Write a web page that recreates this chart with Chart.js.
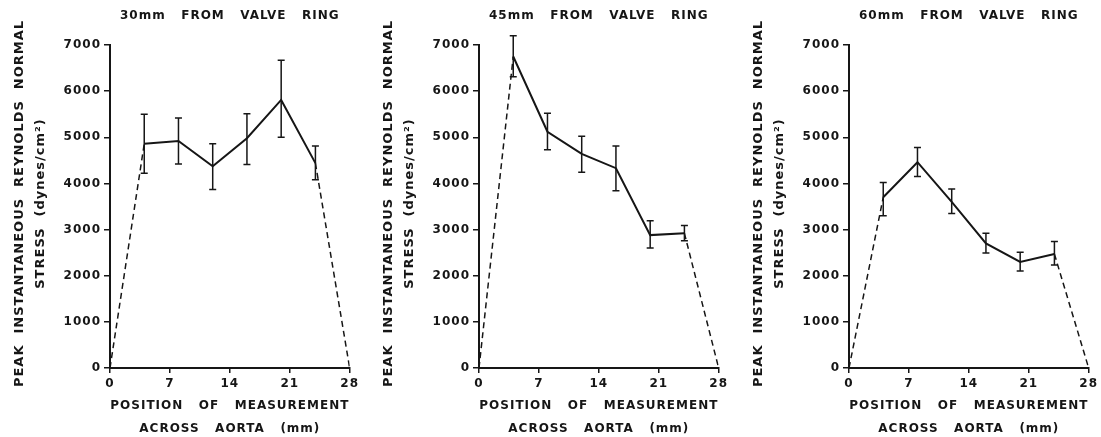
<!DOCTYPE html>
<html>
<head>
<meta charset="utf-8">
<script src="https://cdn.jsdelivr.net/npm/chart.js@4.4.1/dist/chart.umd.min.js"></script>
<style>
html,body{margin:0;padding:0;background:#fff;}
#wrap{position:relative;width:1101px;height:437px;overflow:hidden;background:#fff;}
.pane{position:absolute;top:0;width:362px;height:437px;}
</style>
</head>
<body>
<div id="wrap">
  <div class="pane" style="left:0"><canvas id="c30"></canvas></div>
  <div class="pane" style="left:369px"><canvas id="c45"></canvas></div>
  <div class="pane" style="left:739px"><canvas id="c60"></canvas></div>
</div>
<script>
'use strict';

/* ── data ── */
var POSITIONS=[4,8,12,16,20,24];          // mm across aorta
var WALLS=[0,28];                          // aortic wall, stress 0
var X_TICKS=[0,7,14,21,28];
var Y_TICKS=[0,1000,2000,3000,4000,5000,6000,7000];

var TITLE_30='30mm   FROM   VALVE   RING';
var TITLE_45='45mm   FROM   VALVE   RING';
var TITLE_60='60mm   FROM   VALVE   RING';
var Y_TITLE=['PEAK  INSTANTANEOUS  REYNOLDS  NORMAL','STRESS  (dynes/cm\u00b2)'];
var X_TITLE=['POSITION   OF   MEASUREMENT','ACROSS   AORTA   (mm)'];

var MEAN_30=[4860,4920,4370,4980,5810,4440];
var HI_30  =[5500,5420,4860,5510,6670,4810];
var LO_30  =[4220,4420,3870,4410,5000,4080];

var MEAN_45=[6750,5120,4640,4330,2880,2920];
var HI_45  =[7200,5520,5020,4810,3190,3090];
var LO_45  =[6310,4730,4240,3840,2600,2760];

var MEAN_60=[3700,4460,3600,2700,2300,2470];
var HI_60  =[4020,4780,3880,2920,2510,2740];
var LO_60  =[3300,4150,3350,2490,2100,2230];

/* ── look ── */
var INK='#161616';
var FAMILY='"DejaVu Sans", "Liberation Sans", sans-serif';

Chart.defaults.color=INK;
Chart.defaults.font.family=FAMILY;

// wide lettering like the original typeset figure
var spacingPlugin={
  id:'spacing',
  beforeDraw:function(chart){chart.ctx.letterSpacing='1px';}
};

var errorBarPlugin={
  id:'errorBars',
  afterDatasetsDraw:function(chart,args,opts){
    var xs=chart.scales.x,ys=chart.scales.y,ctx=chart.ctx;
    ctx.save();
    ctx.strokeStyle=INK;ctx.lineWidth=1.5;
    for(var i=0;i<opts.x.length;i++){
      var px=xs.getPixelForValue(opts.x[i]);
      var pt=ys.getPixelForValue(opts.hi[i]);
      var pb=ys.getPixelForValue(opts.lo[i]);
      ctx.beginPath();
      ctx.moveTo(px,pt);ctx.lineTo(px,pb);
      ctx.moveTo(px-3.5,pt);ctx.lineTo(px+3.5,pt);
      ctx.moveTo(px-3.5,pb);ctx.lineTo(px+3.5,pb);
      ctx.stroke();
    }
    ctx.restore();
  }
};

// two-line rotated y title, wider than the plot so drawn by hand
var yTitlePlugin={
  id:'yTitle',
  afterDraw:function(chart){
    var ctx=chart.ctx,a=chart.chartArea;
    var cy=(a.top+a.bottom)/2-3;
    ctx.save();
    ctx.letterSpacing='1px';
    ctx.font='bold 13px '+FAMILY;
    ctx.fillStyle=INK;ctx.textAlign='center';ctx.textBaseline='middle';
    ctx.translate(a.left-90,cy);
    ctx.rotate(-Math.PI/2);
    ctx.fillText(Y_TITLE[0],0,0);
    ctx.fillText(Y_TITLE[1],0,21);
    ctx.restore();
  }
};

function plain(v){return String(v);}

function makePanel(id,title,mean,hi,lo){
  var solid=POSITIONS.map(function(x,i){return{x:x,y:mean[i]};});
  var last=POSITIONS.length-1;
  var dashed=[
    {x:WALLS[0],y:0},{x:POSITIONS[0],y:mean[0]},
    {x:14,y:null},
    {x:POSITIONS[last],y:mean[last]},{x:WALLS[1],y:0}
  ];
  var axisGrid={drawOnChartArea:false,drawTicks:true,tickLength:5,color:INK,lineWidth:1.5};
  var axisBorder={display:true,color:INK,width:2};
  var tickFont={size:12,weight:'bold'};

  return new Chart(document.getElementById(id),{
    type:'line',
    data:{datasets:[
      {data:solid,borderColor:INK,borderWidth:2,pointRadius:0,tension:0,fill:false},
      {data:dashed,borderColor:INK,borderWidth:1.5,borderDash:[6,4],pointRadius:0,tension:0,fill:false,spanGaps:false}
    ]},
    options:{
      responsive:true,maintainAspectRatio:false,animation:false,
      layout:{padding:{left:0,right:10,top:0,bottom:0}},
      plugins:{
        legend:{display:false},tooltip:{enabled:false},
        title:{display:true,text:title,fullSize:false,color:INK,
          font:{size:12,weight:'bold',lineHeight:1.2},padding:{top:9,bottom:21.6}},
        errorBars:{x:POSITIONS,hi:hi,lo:lo}
      },
      scales:{
        x:{type:'linear',min:0,max:28,
          afterBuildTicks:function(s){s.ticks=X_TICKS.map(function(v){return{value:v};});},
          afterFit:function(s){s.height=69;},
          grid:axisGrid,border:axisBorder,
          ticks:{color:INK,font:tickFont,padding:4,maxRotation:0,autoSkip:false,callback:plain},
          title:{display:true,text:X_TITLE,color:INK,font:{size:12,weight:'bold',lineHeight:1.9},padding:{top:0,bottom:-3}}
        },
        y:{type:'linear',min:0,max:7000,
          afterBuildTicks:function(s){s.ticks=Y_TICKS.map(function(v){return{value:v};});},
          afterFit:function(s){s.width=110;},
          grid:{drawOnChartArea:false,drawTicks:true,tickLength:6,color:INK,lineWidth:1.5},
          border:axisBorder,
          ticks:{color:INK,font:tickFont,padding:3,autoSkip:false,callback:plain}
        }
      }
    },
    plugins:[spacingPlugin,errorBarPlugin,yTitlePlugin]
  });
}

makePanel('c30',TITLE_30,MEAN_30,HI_30,LO_30);
makePanel('c45',TITLE_45,MEAN_45,HI_45,LO_45);
makePanel('c60',TITLE_60,MEAN_60,HI_60,LO_60);
</script>
</body>
</html>
